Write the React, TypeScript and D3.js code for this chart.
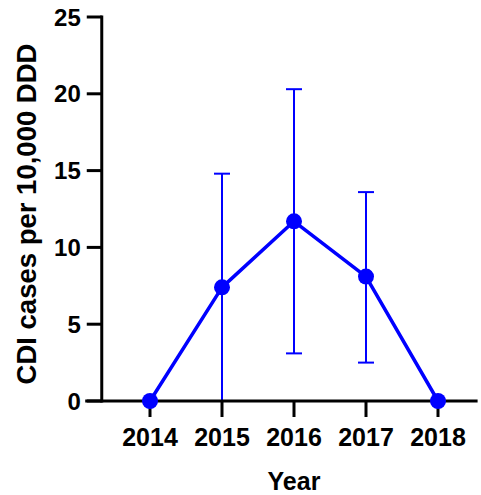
import React from "react";
import * as d3 from "d3";

const years = [2014, 2015, 2016, 2017, 2018];
const means = [0, 7.4, 11.7, 8.1, 0];
const lowers = [0, 0, 3.1, 2.5, 0];
const uppers = [0, 14.8, 20.3, 13.6, 0];
const yTicks = [0, 5, 10, 15, 20, 25];

const W = 481;
const H = 495;
const BLUE = "#0000ff";
const FONT = "'Liberation Sans', Arial, sans-serif";

export default function App() {
  const x = d3.scaleLinear().domain([2014, 2018]).range([150, 438]);
  const y = d3.scaleLinear().domain([0, 25]).range([401, 17]);
  const xAxisStart = 2013.1;
  const xAxisEnd = 2018.55;
  const axisX = x(2013.33);

  const line = d3
    .line<number>()
    .x((_, i) => x(years[i]))
    .y((d) => y(d));

  const capHalf = 8;

  return (
    <svg
      width={W}
      height={H}
      style={{ position: "absolute", left: 0, top: 0, display: "block" }}
      fontFamily={FONT}
      fontWeight="bold"
    >
      <rect width={W} height={H} fill="#fff" />
      {years.map((yr, i) =>
        uppers[i] - lowers[i] > 0 ? (
          <g key={"e" + yr} stroke={BLUE} strokeWidth={2} fill="none">
            <line x1={x(yr)} x2={x(yr)} y1={y(lowers[i])} y2={y(uppers[i])} />
            <line x1={x(yr) - capHalf} x2={x(yr) + capHalf} y1={y(uppers[i])} y2={y(uppers[i])} />
            <line x1={x(yr) - capHalf} x2={x(yr) + capHalf} y1={y(lowers[i])} y2={y(lowers[i])} />
          </g>
        ) : null
      )}
      <g stroke="#000" strokeWidth={3} fill="none">
        <line x1={axisX} x2={axisX} y1={y(25) - 1.5} y2={y(0) + 1.5} />
        <line x1={x(xAxisStart)} x2={x(xAxisEnd)} y1={y(0)} y2={y(0)} />
        {yTicks.map((t) => (
          <line key={"yt" + t} x1={axisX - 15} x2={axisX} y1={y(t)} y2={y(t)} />
        ))}
        {years.map((yr) => (
          <line key={"xt" + yr} x1={x(yr)} x2={x(yr)} y1={y(0)} y2={y(0) + 16} />
        ))}
      </g>
      <path d={line(means) || ""} stroke={BLUE} strokeWidth={3.5} fill="none" strokeLinejoin="round" />
      {years.map((yr, i) => (
        <circle key={"c" + yr} cx={x(yr)} cy={y(means[i])} r={8} fill={BLUE} />
      ))}
      {yTicks.map((t) => (
        <text
          key={"yl" + t}
          x={axisX - 21}
          y={y(t)}
          dy="0.36em"
          textAnchor="end"
          fontSize={24}
          fill="#000"
        >
          {t}
        </text>
      ))}
      {years.map((yr) => (
        <text key={"xl" + yr} x={x(yr)} y={446} textAnchor="middle" fontSize={25} fill="#000">
          {yr}
        </text>
      ))}
      <text x={294} y={490} textAnchor="middle" fontSize={25} fill="#000">
        Year
      </text>
      <text
        transform={`translate(36,214) rotate(-90)`}
        textAnchor="middle"
        fontSize={27.5}
        fill="#000"
      >
        CDI cases per 10,000 DDD
      </text>
    </svg>
  );
}
